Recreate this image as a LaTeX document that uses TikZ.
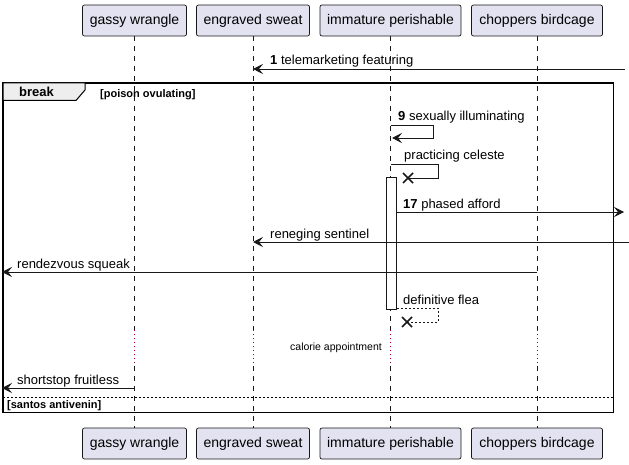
\documentclass[tikz,border=0pt]{standalone}
\usepackage{fontspec}
\setmainfont{Liberation Sans}
\usetikzlibrary{arrows.meta,positioning}

\definecolor{partfill}{HTML}{E2E2F0}
\definecolor{partline}{HTML}{181818}
\definecolor{delayred}{HTML}{A80036}
\definecolor{tabfill}{HTML}{EEEEEE}

\begin{document}
\begin{tikzpicture}[x=1pt,y=-1pt,
  part/.style={draw=partline,fill=partfill,rounded corners=2pt,line width=0.7pt,
    minimum height=31pt,inner sep=0pt,font=\fontsize{14}{16}\selectfont},
  life/.style={draw=partline,line width=0.6pt,dash pattern=on 5pt off 5pt},
  delay/.style={draw=delayred,line width=1pt,dash pattern=on 1pt off 3pt},
  msg/.style={draw=partline,line width=0.9pt,-{Stealth[length=10pt,width=10pt,inset=4pt]}},
  ret/.style={draw=partline,line width=0.9pt,dash pattern=on 2pt off 2pt},
  lbl/.style={font=\fontsize{13}{15}\selectfont,anchor=base west,inner sep=0pt},
  kill/.style={draw=partline,line width=1.6pt}]
\useasboundingbox (0,0) rectangle (629,465);

% Participants, top and bottom
\foreach \n/\x/\w/\t in {gassy/134.5/104/gassy wrangle,engraved/253/113/engraved sweat,
    immature/390.5/141/immature perishable,choppers/537/131/choppers birdcage}{
  \node[part,minimum width=\w] (\n-top) at (\x,20.5) {\t};
  \node[part,minimum width=\w] (\n-bot) at (\x,443.5) {\t};
}

% Lifelines with the delay
\foreach \n in {gassy,engraved,immature,choppers}{
  \coordinate (\n-d1) at (\n-top.south |- 0,330);
  \coordinate (\n-d2) at (\n-top.south |- 0,366);
  \draw[life] (\n-top.south) -- (\n-d1);
  \draw[delay] (\n-d1) -- (\n-d2);
  \draw[life] (\n-d2) -- (\n-bot.north);
}

% Activation bar
\node[draw=partline,fill=white,line width=0.8pt,minimum width=10pt,minimum height=132pt,
  inner sep=0pt,anchor=north] (act) at (391.5,177) {};

% Break frame
\draw[line width=1.5pt] (3,83) rectangle (613.5,412.5);
\draw[fill=tabfill,line width=1pt] (3,83) -- (85,83) -- (85,90) -- (76,100.5) -- (3,100.5) -- cycle;
\node[lbl,font=\bfseries\fontsize{13}{15}\selectfont] (brk) at (19,97) {break};
\node[lbl,font=\bfseries\fontsize{11}{13}\selectfont] (cond1) at (100,98) {[poison ovulating]};
\draw[line width=0.9pt,dash pattern=on 2pt off 2pt] (3,397) coordinate (sepL) -- (613.5,397) coordinate (sepR);
\node[lbl,font=\bfseries\fontsize{11}{13}\selectfont] (cond2) at (7,408) {[santos antivenin]};

% Messages
\coordinate (m1s) at (625,69);
\coordinate (m1e) at (engraved-top.south |- 0,69);
\draw[msg] (m1s) -- (m1e);
\node[lbl] (m1) at (270,65) {\textbf{1} telemarketing featuring};

\coordinate (m9s) at (immature-top.south |- 0,125);
\draw[msg] (m9s) -- (433,125) -- (433,138) -- (392,138);
\node[lbl] (m9) at (398,121) {\textbf{9} sexually illuminating};

\coordinate (pcs) at (immature-top.south |- 0,164);
\coordinate (pcx) at (408,178);
\draw[partline,line width=0.9pt] (pcs) -- (438,164) -- (438,178) -- (pcx);
\draw[kill] ([shift={(-5,-5)}]pcx) -- ([shift={(5,5)}]pcx) ([shift={(-5,5)}]pcx) -- ([shift={(5,-5)}]pcx);
\node[lbl] (pc) at (404,160) {practicing celeste};

\coordinate (m17e) at (624,212);
\draw[msg] (act.east |- 0,212) -- (m17e);
\node[lbl] (m17) at (403,208) {\textbf{17} phased afford};

\coordinate (rns) at (629,242);
\draw[msg] (rns) -- (engraved-top.south |- 0,242);
\node[lbl] (rn) at (270,238) {reneging sentinel};

\coordinate (rvs) at (choppers-top.south |- 0,272);
\coordinate (rve) at (2,272);
\draw[msg] (rvs) -- (rve);
\node[lbl] (rv) at (17,268) {rendezvous squeak};

\coordinate (dfx) at (407,322);
\draw[ret] (act.east |- 0,308) -- (438,308) -- (438,322) -- (dfx);
\draw[kill] ([shift={(-5,-5)}]dfx) -- ([shift={(5,5)}]dfx) ([shift={(-5,5)}]dfx) -- ([shift={(5,-5)}]dfx);
\node[lbl] (df) at (403,304) {definitive flea};

\node[font=\fontsize{10.5}{13}\selectfont,anchor=base east,inner sep=0pt] (cal) at (382,350) {calorie appointment};

\coordinate (sfe) at (2,388);
\draw[msg] (gassy-top.south |- 0,388) -- (sfe);
\node[lbl] (sf) at (17,384) {shortstop fruitless};
\end{tikzpicture}
\end{document}
